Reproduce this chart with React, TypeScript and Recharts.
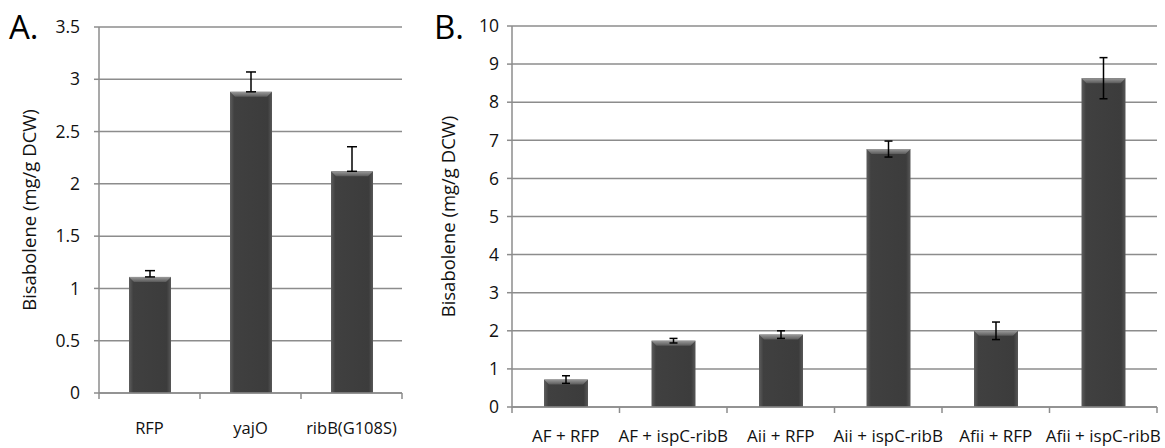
import React from "react";
import { BarChart, Bar, XAxis, YAxis, CartesianGrid, ErrorBar, Label } from "recharts";

const catsA = ["RFP", "yajO", "ribB(G108S)"];
const valsA = [1.11, 2.88, 2.12];
const errA = [0.06, 0.19, 0.235];
const ticksA = [0, 0.5, 1, 1.5, 2, 2.5, 3, 3.5];

const catsB = ["AF + RFP", "AF + ispC-ribB", "Aii + RFP", "Aii + ispC-ribB", "Afii + RFP", "Afii + ispC-ribB"];
const valsB = [0.72, 1.74, 1.9, 6.77, 2.0, 8.63];
const errB = [0.1, 0.06, 0.1, 0.21, 0.23, 0.54];
const ticksB = [0, 1, 2, 3, 4, 5, 6, 7, 8, 9, 10];

const dataA = catsA.map((name, i) => ({ name, value: valsA[i], err: [0, errA[i]] }));
const dataB = catsB.map((name, i) => ({ name, value: valsB[i], err: errB[i] }));

const FONT = "'Open Sans', sans-serif";
const GRID = "#8c8c8c";
const TEXT = "#111";

const BevelBar = (props: any) => {
  const { x, y, width, height, gid } = props;
  if (!height || height <= 0) return null;
  const b = Math.min(5, height / 2);
  return (
    <g>
      <rect x={x} y={y} width={width} height={height} fill={`url(#side${gid})`} />
      <polygon
        points={`${x},${y} ${x + width},${y} ${x + width - b},${y + b} ${x + b},${y + b}`}
        fill={`url(#top${gid})`}
      />
    </g>
  );
};

const Defs = ({ gid }: { gid: string }) => (
  <defs>
    <linearGradient id={`side${gid}`} x1="0" y1="0" x2="1" y2="0">
      <stop offset="0" stopColor="#5e5e5e" />
      <stop offset="0.1" stopColor="#404040" />
      <stop offset="0.9" stopColor="#3c3c3c" />
      <stop offset="1" stopColor="#585858" />
    </linearGradient>
    <linearGradient id={`top${gid}`} x1="0" y1="0" x2="0" y2="1">
      <stop offset="0" stopColor="#9a9a9a" />
      <stop offset="1" stopColor="#5a5a5a" />
    </linearGradient>
  </defs>
);

const CatTick = (props: any) => {
  const { x, y, payload, index, count, gap, fontSize } = props;
  const off = payload && payload.offset ? payload.offset : 0;
  return (
    <g>
      <line x1={x - off} y1={y} x2={x - off} y2={y + 6} stroke={GRID} strokeWidth={1.5} />
      {index === count - 1 && (
        <line x1={x + off} y1={y} x2={x + off} y2={y + 6} stroke={GRID} strokeWidth={1.5} />
      )}
      <text x={x} y={y + gap} textAnchor="middle" fontFamily={FONT} fontSize={fontSize} fill={TEXT}>
        {payload.value}
      </text>
    </g>
  );
};

const yLabel = (text: string, dxFromLeft: number) => (props: any) => {
  const vb = props.viewBox || {};
  const cx = vb.x + dxFromLeft;
  const cy = vb.y + vb.height / 2;
  return (
    <text
      x={cx}
      y={cy}
      transform={`rotate(-90, ${cx}, ${cy})`}
      textAnchor="middle"
      dominantBaseline="central"
      fontFamily={FONT}
      fontSize={18.5}
      fill={TEXT}
    >
      {text}
    </text>
  );
};

export default function App() {
  return (
    <div style={{ position: "absolute", left: 0, top: 0, width: 1165, height: 448, background: "#fff" }}>
      <svg width={1165} height={448} style={{ position: "absolute", left: 0, top: 0 }}>
        <text x={9} y={39} fontFamily={FONT} fontSize={33} fill="#000">A.</text>
        <text x={434} y={39} fontFamily={FONT} fontSize={33} fill="#000">B.</text>
      </svg>

      <div style={{ position: "absolute", left: 0, top: 0 }}>
        <BarChart width={420} height={448} data={dataA} margin={{ top: 27, right: 18, bottom: 0, left: 0 }}>
          <Defs gid="A" />
          <CartesianGrid vertical={false} stroke={GRID} strokeWidth={1.5} />
          <XAxis
            dataKey="name"
            height={55}
            stroke={GRID}
            strokeWidth={1.5}
            tickLine={false}
            tickSize={0}
            tickMargin={0}
            interval={0}
            tick={<CatTick count={catsA.length} gap={41} fontSize={16.5} />}
          />
          <YAxis
            width={99}
            domain={[0, 3.5]}
            ticks={ticksA}
            interval={0}
            stroke={GRID}
            strokeWidth={1.5}
            tickSize={5}
            tickMargin={14}
            tick={{ fontFamily: FONT, fontSize: 17.5, fill: TEXT }}
          >
            <Label content={yLabel("Bisabolene  (mg/g DCW)", 28)} />
          </YAxis>
          <Bar dataKey="value" barSize={42} isAnimationActive={false} shape={(p: any) => <BevelBar {...p} gid="A" />}>
            <ErrorBar dataKey="err" width={5} stroke="#000" strokeWidth={1.5} />
          </Bar>
        </BarChart>
      </div>

      <div style={{ position: "absolute", left: 420, top: 0 }}>
        <BarChart width={745} height={448} data={dataB} margin={{ top: 26, right: 8, bottom: 0, left: 0 }}>
          <Defs gid="B" />
          <CartesianGrid vertical={false} stroke={GRID} strokeWidth={1.5} />
          <XAxis
            dataKey="name"
            height={41}
            stroke={GRID}
            strokeWidth={1.5}
            tickLine={false}
            tickSize={0}
            tickMargin={0}
            interval={0}
            tick={<CatTick count={catsB.length} gap={35} fontSize={17} />}
          />
          <YAxis
            width={92}
            domain={[0, 10]}
            ticks={ticksB}
            interval={0}
            stroke={GRID}
            strokeWidth={1.5}
            tickSize={5}
            tickMargin={8}
            tick={{ fontFamily: FONT, fontSize: 17.5, fill: TEXT }}
          >
            <Label content={yLabel("Bisabolene (mg/g DCW)", 27)} />
          </YAxis>
          <Bar dataKey="value" barSize={44} isAnimationActive={false} shape={(p: any) => <BevelBar {...p} gid="B" />}>
            <ErrorBar dataKey="err" width={4} stroke="#000" strokeWidth={1.5} />
          </Bar>
        </BarChart>
      </div>
    </div>
  );
}
